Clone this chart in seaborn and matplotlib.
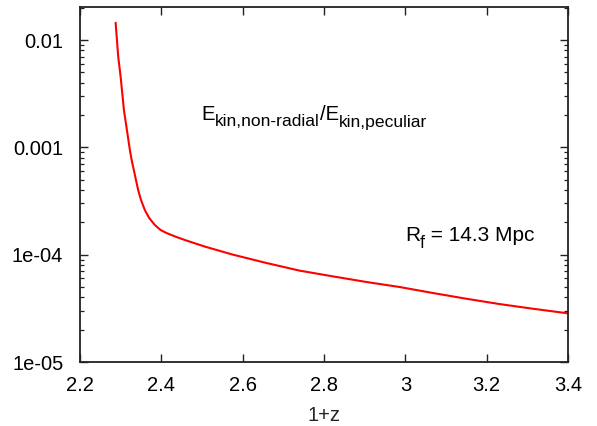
import numpy as np
import pandas as pd
import seaborn as sns
import matplotlib
matplotlib.use("Agg")
import matplotlib.pyplot as plt
import matplotlib.transforms as mtransforms
from matplotlib.ticker import LogLocator, FixedLocator, NullLocator

# ---- data ----
one_plus_z = [2.2876, 2.294, 2.2999, 2.308, 2.3227, 2.327, 2.335, 2.343,
              2.350, 2.3595, 2.370, 2.384, 2.398, 2.4128, 2.4373, 2.4577, 2.5067,
              2.5762, 2.6582, 2.7399, 2.8216, 2.9036, 2.9853, 3.067, 3.149,
              3.2307, 3.3124, 3.4]
ratio = [1.449e-2, 6.98e-3, 4.55e-3, 2.23e-3, 9.44e-4, 7.62e-4, 5.52e-4, 4.0e-4,
         3.23e-4, 2.6e-4, 2.2e-4, 1.89e-4, 1.70e-4, 1.59e-4, 1.46e-4, 1.37e-4, 1.19e-4,
         1.0e-4, 8.37e-5, 7.10e-5, 6.28e-5, 5.57e-5, 5.00e-5, 4.40e-5, 3.89e-5,
         3.47e-5, 3.14e-5, 2.84e-5]
x_ticks = [2.2, 2.4, 2.6, 2.8, 3.0, 3.2, 3.4]
x_tick_labels = ["2.2", "2.4", "2.6", "2.8", "3", "3.2", "3.4"]
y_ticks = [1e-5, 1e-4, 1e-3, 1e-2]
y_tick_labels = ["1e-05", "1e-04", "0.001", "0.01"]
x_label = "1+z"
title_parts = [("E", False), ("kin,non-radial", True), ("/E", False), ("kin,peculiar", True)]
rf_parts = [("R", False), ("f", True), (" = 14.3 Mpc", False)]

df = pd.DataFrame({"x": one_plus_z, "y": ratio})

sns.set_theme(style="ticks")
plt.rcParams["font.family"] = ["Liberation Sans", "DejaVu Sans"]

fig = plt.figure(figsize=(5.97, 4.26), dpi=100)
ax = fig.add_axes([80/597, 1-362/426, 488/597, 355/426])

sns.lineplot(data=df, x="x", y="y", ax=ax, color="#ff0000", linewidth=1.5, sort=False)

ax.set_yscale("log")
ax.set_xlim(2.2, 3.4)
ax.set_ylim(1e-5, 0.0203)

ax.xaxis.set_major_locator(FixedLocator(x_ticks))
ax.set_xticklabels(x_tick_labels)
ax.xaxis.set_minor_locator(NullLocator())
ax.yaxis.set_major_locator(FixedLocator(y_ticks))
ax.set_yticklabels(y_tick_labels)
ax.yaxis.set_minor_locator(LogLocator(base=10, subs=np.arange(2, 10), numticks=20))

for s in ax.spines.values():
    s.set_visible(True)
    s.set_linewidth(1.3)
    s.set_color("#222222")

ax.tick_params(which="both", direction="in", top=True, right=True, colors="#222222",
               labelcolor="black", labelsize=14.5)
ax.tick_params(which="major", length=6, width=1.0)
ax.tick_params(which="minor", length=3, width=0.9)
ax.tick_params(axis="y", pad=12)
ax.tick_params(axis="x", pad=10)

ax.set_xlabel(x_label, fontsize=14.5, labelpad=8)
ax.set_ylabel("")
ax.grid(False)


def chain_text(ax, x, y, parts, size, subsize, drop):
    fig = ax.figure
    fig.canvas.draw()
    r = fig.canvas.get_renderer()
    off = 0.0
    for txt, sub in parts:
        tr = mtransforms.offset_copy(ax.transAxes, fig=fig, x=off,
                                     y=-drop if sub else 0, units="dots")
        t = ax.text(x, y, txt, transform=tr, fontsize=subsize if sub else size,
                    ha="left", va="baseline", color="black")
        off += t.get_window_extent(renderer=r).width


chain_text(ax, (201.5-80)/488, (362-119.5)/355, title_parts, 14.6, 12.6, 7)
chain_text(ax, (405-80)/488, (362-240.5)/355, rf_parts, 15, 12.8, 7)

fig.savefig("out.png", dpi=100)
